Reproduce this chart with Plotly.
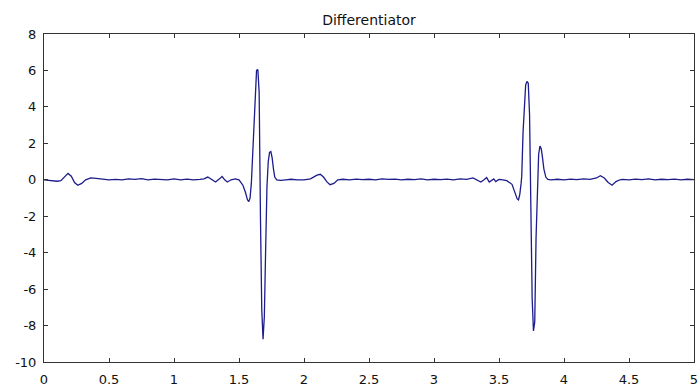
import plotly.graph_objects as go

# Time (s) and differentiator output
t = [
    0.00, 0.05, 0.10, 0.13, 0.16, 0.185, 0.21, 0.235, 0.26, 0.29, 0.32, 0.36, 0.40, 0.45,
    0.50, 0.55, 0.60, 0.65, 0.70, 0.75, 0.80, 0.85, 0.90, 0.95, 1.00, 1.05, 1.10, 1.15, 1.20,
    1.23, 1.26, 1.29, 1.32, 1.35, 1.37, 1.39, 1.41, 1.44, 1.47, 1.50, 1.53, 1.55, 1.565, 1.575, 1.585, 1.595,
    1.605, 1.615, 1.625, 1.635, 1.645, 1.655, 1.665, 1.675, 1.685, 1.695, 1.705, 1.715, 1.725, 1.735,
    1.745, 1.755, 1.765, 1.775, 1.79, 1.82, 1.86, 1.90, 1.95, 2.00, 2.05, 2.10, 2.125, 2.15, 2.175,
    2.20, 2.23, 2.26,
    2.30, 2.35, 2.40, 2.45, 2.50, 2.55, 2.60, 2.65, 2.70, 2.75, 2.80, 2.85, 2.90, 2.95, 3.00, 3.05,
    3.10, 3.15, 3.20, 3.25,
    3.30, 3.33, 3.36, 3.385, 3.405, 3.425, 3.445, 3.46, 3.475, 3.50, 3.53, 3.56, 3.60, 3.62, 3.64, 3.65,
    3.66, 3.67, 3.675, 3.685, 3.695, 3.705, 3.715, 3.725, 3.735, 3.745, 3.755, 3.765, 3.775, 3.785,
    3.795, 3.805, 3.815, 3.825, 3.835, 3.845, 3.86, 3.875,
    3.90, 3.95, 4.00, 4.05, 4.10, 4.15, 4.20, 4.25, 4.28, 4.31, 4.34, 4.37, 4.40, 4.43,
    4.45, 4.50, 4.55, 4.60, 4.65, 4.70, 4.75, 4.80, 4.85, 4.90, 4.95, 5.00,
]
amp = [
    0.00, -0.02, -0.08, -0.05, 0.20, 0.35, 0.20, -0.15, -0.30, -0.20, 0.00, 0.10, 0.08, 0.02,
    0.00, 0.02, 0.00, 0.05, 0.02, 0.06, 0.00, 0.04, 0.03, 0.00, 0.05, 0.00, 0.04, 0.00, 0.02,
    0.05, 0.15, 0.02, -0.12, 0.05, 0.18, 0.00, -0.12, 0.00, 0.05, 0.00, -0.30, -0.70, -1.10, -1.20, -1.00, -0.20,
    1.50, 3.10, 5.20, 6.00, 6.05, 4.80, -2.00, -7.10, -8.75, -7.50, -3.80, -0.40, 1.00, 1.50,
    1.55, 1.20, 0.60, 0.15, 0.00, -0.03, 0.00, 0.03, 0.00, 0.00, 0.05, 0.25, 0.30, 0.15, -0.10,
    -0.27, -0.20, 0.00,
    0.03, 0.00, 0.04, 0.01, 0.03, 0.00, 0.05, 0.02, 0.04, 0.00, 0.03, 0.01, 0.05, 0.00, 0.03, 0.01,
    0.04, 0.00, 0.05, 0.02,
    0.10, 0.00, -0.12, 0.00, 0.12, -0.12, 0.00, 0.05, -0.10, 0.02, 0.00, -0.05, -0.25, -0.60, -1.05, -1.10,
    -0.80, -0.20, 0.20, 2.60, 4.10, 5.20, 5.40, 5.30, 3.60, -1.00, -6.50, -8.30, -7.80, -3.20,
    0.00, 1.40, 1.85, 1.70, 1.20, 0.60, 0.15, 0.02,
    0.00, 0.03, 0.00, 0.04, 0.01, 0.05, 0.02, 0.10, 0.22, 0.10, -0.15, -0.30, -0.10, 0.00,
    0.02, 0.00, 0.04, 0.01, 0.05, 0.00, 0.03, 0.01, 0.04, 0.00, 0.03, 0.01,
]

x_ticks = [0, 0.5, 1, 1.5, 2, 2.5, 3, 3.5, 4, 4.5, 5]
x_tick_text = ["0", "0.5", "1", "1.5", "2", "2.5", "3", "3.5", "4", "4.5", "5"]
y_ticks = [-10, -8, -6, -4, -2, 0, 2, 4, 6, 8]
y_tick_text = ["-10", "-8", "-6", "-4", "-2", "0", "2", "4", "6", "8"]
title_text = "Differentiator"

fig = go.Figure()
fig.add_trace(go.Scatter(
    x=t, y=amp, mode="lines",
    line=dict(color="rgb(28,28,140)", width=1.3),
    showlegend=False, hoverinfo="skip",
))

axis_common = dict(
    showline=True, linecolor="#333333", linewidth=1, mirror="ticks",
    ticks="inside", ticklen=4, tickcolor="#333333", tickwidth=1,
    showgrid=False, zeroline=False, ticklabeloverflow="allow",
    tickfont=dict(family="DejaVu Sans, Arial, sans-serif", size=13, color="#111111"),
)

fig.update_layout(
    width=700, height=389,
    margin=dict(l=44, r=2, t=34, b=17),
    paper_bgcolor="white", plot_bgcolor="white",
    title=dict(
        text=title_text, x=0.5, xref="paper", xanchor="center",
        y=1 - 20.5 / 389, yref="container", yanchor="middle",
        font=dict(family="DejaVu Sans, Arial, sans-serif", size=14, color="#111111"),
    ),
    xaxis=dict(range=[0, 5], tickvals=x_ticks, ticktext=x_tick_text,
               ticklabelstandoff=5, **axis_common),
    yaxis=dict(range=[-10, 8], tickvals=y_ticks, ticktext=y_tick_text,
               ticklabelstandoff=4, **axis_common),
)

fig.write_html("out.html")
